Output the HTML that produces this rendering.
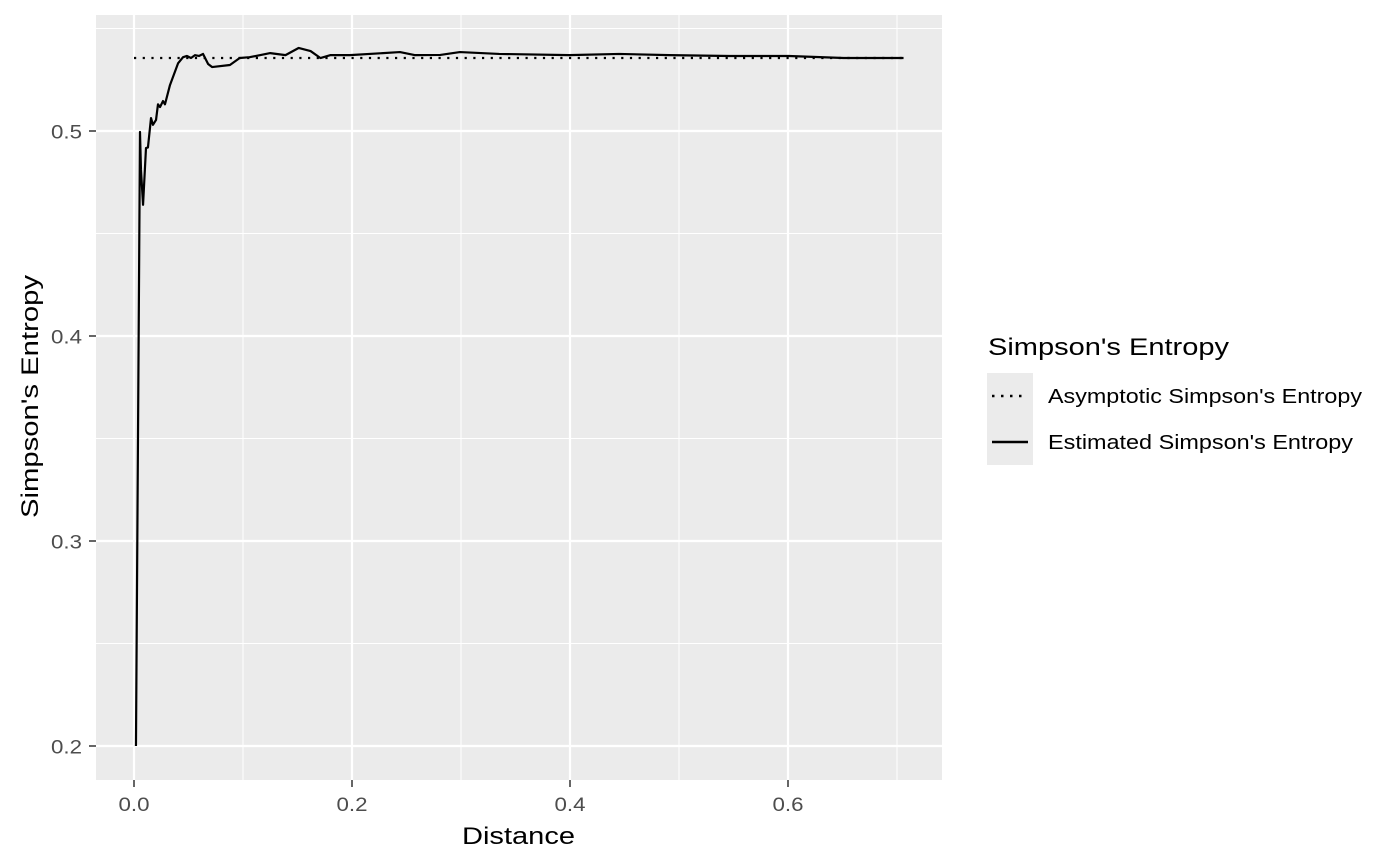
<!DOCTYPE html>
<html><head><meta charset="utf-8"><style>
body{margin:0;background:#fff;}
svg{display:block;font-family:"Liberation Sans",Arial,sans-serif;}
</style></head><body>
<svg id="chart" width="1400" height="866" viewBox="0 0 1400 866">
<rect x="96" y="15" width="846" height="765" fill="#ebebeb"/>
<g id="grid"></g>
<g id="series"></g>
<g id="axes"></g>
<text x="462" y="844" font-size="24" textLength="113" lengthAdjust="spacingAndGlyphs" fill="#000">Distance</text>
<text transform="translate(38,518) rotate(-90)" font-size="24" textLength="243" lengthAdjust="spacingAndGlyphs" fill="#000">Simpson's Entropy</text>
<g>
<text x="988" y="355" font-size="24" textLength="241" lengthAdjust="spacingAndGlyphs" fill="#000">Simpson's Entropy</text>
<rect x="987" y="373" width="46" height="92" fill="#ebebeb"/>
<g>
<line x1="992" y1="396" x2="1028" y2="396" stroke="#000" stroke-width="2.5" stroke-dasharray="2.5,6.5"/>
<text x="1048" y="403" font-size="20" textLength="314" lengthAdjust="spacingAndGlyphs" fill="#000">Asymptotic Simpson's Entropy</text></g>
<g>
<line x1="992" y1="442" x2="1028" y2="442" stroke="#000" stroke-width="2.5"/>
<text x="1048" y="449" font-size="20" textLength="305" lengthAdjust="spacingAndGlyphs" fill="#000">Estimated Simpson's Entropy</text></g>
</g>
</svg>
<script>
const xTicks=[0,0.2,0.4,0.6];
const xTickLabels=["0.0","0.2","0.4","0.6"];
const yTicks=[0.2,0.3,0.4,0.5];
const yTickLabels=["0.2","0.3","0.4","0.5"];
const asymptote=0.5356;
const asymX=[0,0.706];
const distances=[0.0018,0.0055,0.0064,0.0083,0.011,0.0128,0.0156,0.0174,0.0202,0.022,0.0239,0.0266,0.0284,0.033,0.0404,0.045,0.0486,0.0523,0.056,0.0596,0.0633,0.068,0.0716,0.088,0.097,0.106,0.125,0.139,0.151,0.162,0.171,0.18,0.198,0.244,0.258,0.281,0.299,0.335,0.399,0.445,0.491,0.546,0.601,0.651,0.706];
const entropy=[0.2,0.4995,0.481,0.464,0.4917,0.492,0.5063,0.503,0.5054,0.513,0.5117,0.5146,0.513,0.5224,0.533,0.536,0.5366,0.5356,0.537,0.5366,0.5376,0.5327,0.5312,0.5322,0.5356,0.536,0.538,0.537,0.5405,0.539,0.5356,0.537,0.537,0.5385,0.537,0.5371,0.5385,0.5376,0.537,0.5376,0.537,0.5366,0.5366,0.5356,0.5356];
const NS="http://www.w3.org/2000/svg";
const X=v=>134+v*1090, Y=v=>131+(0.5-v)*2050;
function mk(tag,attrs,parent){const e=document.createElementNS(NS,tag);for(const k in attrs)e.setAttribute(k,attrs[k]);document.getElementById(parent).appendChild(e);return e;}
for(let i=0;i<xTicks.length;i++){const m=xTicks[i]+0.1;if(X(m)<942){const l=mk('line',{x1:X(m),x2:X(m),y1:15,y2:780,stroke:'#fff','stroke-width':1},'grid');

}}
for(let i=0;i<yTicks.length;i++){const m=yTicks[i]+0.05;if(Y(m)>15){const l=mk('line',{x1:96,x2:942,y1:Y(m),y2:Y(m),stroke:'#fff','stroke-width':1},'grid');

}}
xTicks.forEach((v,i)=>{const l=mk('line',{x1:X(v),x2:X(v),y1:15,y2:780,stroke:'#fff','stroke-width':2.2},'grid');


const t=mk('line',{x1:X(v),x2:X(v),y1:780,y2:787,stroke:'#333','stroke-width':1.5},'axes');


const tx=mk('text',{x:X(v)-15.5,y:811,'font-size':19,textLength:31,lengthAdjust:'spacingAndGlyphs',fill:'#4d4d4d'},'axes');tx.textContent=xTickLabels[i];

});
yTicks.forEach((v,i)=>{const l=mk('line',{x1:96,x2:942,y1:Y(v),y2:Y(v),stroke:'#fff','stroke-width':2.2},'grid');


const t=mk('line',{x1:89,x2:96,y1:Y(v),y2:Y(v),stroke:'#333','stroke-width':1.5},'axes');


const tx=mk('text',{x:51,y:Y(v)+7.5,'font-size':19,textLength:31,lengthAdjust:'spacingAndGlyphs',fill:'#4d4d4d'},'axes');tx.textContent=yTickLabels[i];

});
const a=mk('line',{x1:X(asymX[0]),x2:X(asymX[1]),y1:Y(asymptote),y2:Y(asymptote),stroke:'#000','stroke-width':2.2,'stroke-dasharray':'2.2,6.5'},'series');


const p=mk('polyline',{points:distances.map((d,i)=>X(d)+','+Y(entropy[i])).join(' '),fill:'none',stroke:'#000','stroke-width':2.2,'stroke-linejoin':'round'},'series');


</script>
</body></html>
